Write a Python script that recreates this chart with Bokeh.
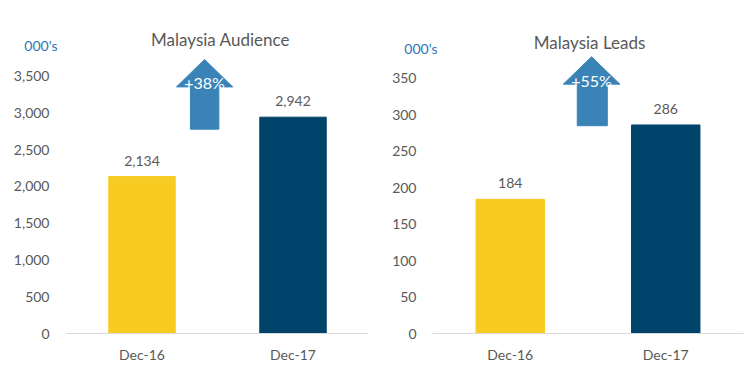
from bokeh.plotting import figure
from bokeh.models import (FactorRange, Range1d, FixedTicker, NumeralTickFormatter,
                          Label, ColumnDataSource, LinearAxis)
from bokeh.layouts import row
from bokeh.embed import file_html
from bokeh.resources import INLINE
from bokeh.core.properties import value

# ---- data ----
categories = ["Dec-16", "Dec-17"]
audience = [2134, 2942]
leads = [184, 286]
audience_ticks = [0, 500, 1000, 1500, 2000, 2500, 3000, 3500]
leads_ticks = [0, 50, 100, 150, 200, 250, 300, 350]
audience_growth = "+38%"
leads_growth = "+55%"
titles = ["Malaysia Audience", "Malaysia Leads"]
unit_label = "000's"
bar_colors = ["#F7CB22", "#00436A"]

FONT = "Lato"
GREY = "#595959"
BLUE = "#2E75B6"
ARROW = "#3A83B7"


def make_chart(title, vals, ticks, yend, growth, arrow, title_xy, unit_y,
               unit_standoff, main_standoff, border_left, border_right, border_bottom):
    p = figure(width=378, height=369, x_range=FactorRange(*categories, range_padding=0),
               y_range=Range1d(0, yend), output_backend="svg", toolbar_location=None,
               y_axis_location=None,
               min_border_left=border_left, min_border_right=border_right,
               min_border_top=20, min_border_bottom=border_bottom)
    p.outline_line_color = None
    p.grid.visible = False
    p.background_fill_color = "white"
    p.border_fill_color = "white"

    src = ColumnDataSource(dict(x=categories, top=vals, color=bar_colors,
                                lab=[f"{v:,}" for v in vals]))
    p.vbar(x="x", top="top", width=0.44, color="color", source=src)
    p.text(x="x", y="top", text="lab", source=src, text_align="center",
           text_baseline="middle", y_offset=-16, text_color=GREY,
           text_font=value(FONT), text_font_size="14px")

    # growth arrow
    (sx0, sx1, hx0, hx1, yb, yh, yt) = arrow
    xm = (hx0 + hx1) / 2
    p.patch([sx0, sx1, sx1, hx1, xm, hx0, sx0, sx0],
            [yb, yb, yh, yh, yt, yh, yh, yb], color=ARROW, line_color=ARROW)
    p.text(x=[xm], y=[yh], text=[growth], text_align="center", text_baseline="middle",
           y_offset=-4, text_color="white", text_font=value(FONT), text_font_size="16px")

    # inner axis: unit label "000's"
    unit_axis = LinearAxis(ticker=FixedTicker(ticks=[unit_y]),
                           major_label_overrides={unit_y: unit_label})
    unit_axis.major_label_standoff = unit_standoff
    unit_axis.major_label_text_color = BLUE
    # outer axis: value ticks
    main_axis = LinearAxis(ticker=FixedTicker(ticks=ticks),
                           formatter=NumeralTickFormatter(format="0,0"))
    main_axis.major_label_standoff = main_standoff
    main_axis.major_label_text_color = GREY
    for ax in (unit_axis, main_axis):
        ax.axis_line_color = None
        ax.major_tick_line_color = None
        ax.minor_tick_line_color = None
        ax.major_tick_out = 0
        ax.major_tick_in = 0
        ax.major_label_text_font = FONT
        ax.major_label_text_font_size = "14px"
        p.add_layout(ax, "left")

    p.xaxis.axis_line_color = "#D9D9D9"
    p.xaxis.major_tick_line_color = None
    p.xaxis.minor_tick_line_color = None
    p.xaxis.major_tick_out = 0
    p.xaxis.major_tick_in = 0
    p.xaxis.major_label_standoff = 12
    p.xaxis.major_label_text_font = FONT
    p.xaxis.major_label_text_font_size = "14px"
    p.xaxis.major_label_text_color = GREY

    p.add_layout(Label(x=title_xy[0], y=title_xy[1], text=title, text_font=FONT,
                       text_font_size="17px", text_color=GREY, text_align="center",
                       text_baseline="middle"))
    return p


left = make_chart(titles[0], audience, audience_ticks, 4257, audience_growth,
                  (0.821, 1.009, 0.728, 1.101, 2779, 3354, 3727), (1.02, 3999), 3917,
                  9, -28, 66, 10, 36)
right = make_chart(titles[1], leads, leads_ticks, 429.3, leads_growth,
                   (0.931, 1.124, 0.841, 1.205, 285, 342, 379.5), (1.01, 399.2), 390.6,
                   -5, -15, 54, 13, 35)

layout = row(left, right)
open("out.html", "w").write(file_html(layout, INLINE))
